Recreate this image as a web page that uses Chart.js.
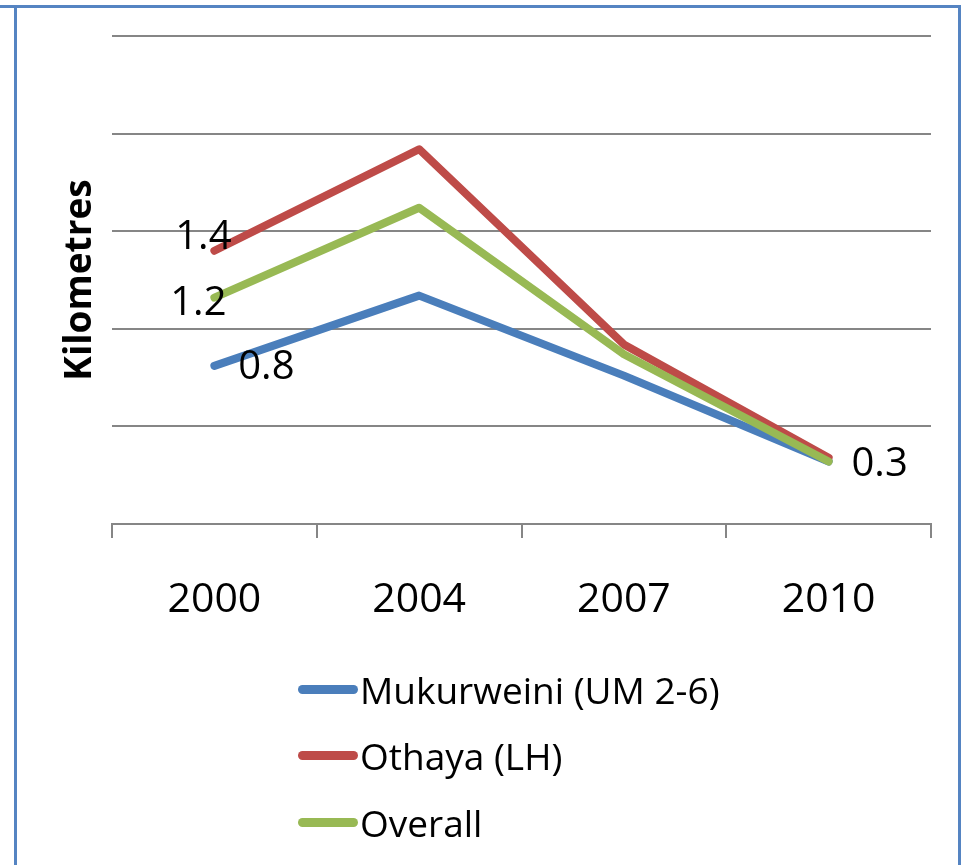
<!DOCTYPE html>
<html>
<head>
<meta charset="utf-8">
<script src="https://cdn.jsdelivr.net/npm/chart.js@4.4.1/dist/chart.umd.min.js"></script>
<style>
  html, body { margin: 0; padding: 0; background: #fff; }
  .wrap { position: relative; width: 963px; height: 865px; overflow: hidden; }
  .frame { position: absolute; background: #5584c2; }
  .frame.top { left: 0; top: 5px; width: 961px; height: 3px; }
  .frame.left { left: 14px; top: 5px; width: 3px; height: 860px; }
  .frame.right { left: 958px; top: 5px; width: 3px; height: 860px; }
  #legend { position: absolute; left: 298px; top: 656px; font-family: "Open Sans", sans-serif; font-size: 37px; color: #000; }
  #legend .item { display: flex; align-items: center; height: 66.5px; }
  #legend .swatch { width: 60px; height: 9px; border-radius: 5px; margin-right: 2px; }
</style>
</head>
<body>
<div class="wrap">
  <canvas id="myChart"></canvas>
  <div class="frame top"></div>
  <div class="frame left"></div>
  <div class="frame right"></div>
  <div id="legend"></div>
</div>
<script>
// Chart data
const years = ["2000", "2004", "2007", "2010"];
const seriesNames = ["Mukurweini (UM 2-6)", "Othaya (LH)", "Overall"];

const mukurweini = [0.81, 1.17, 0.76, 0.32];
const othaya = [1.40, 1.92, 0.92, 0.34];
const overall = [1.16, 1.62, 0.87, 0.32];

// Data labels shown on the chart ("" = no label)
const mukurweiniLabels = ["0.8", "", "", "0.3"];
const othayaLabels = ["1.4", "", "", ""];
const overallLabels = ["1.2", "", "", ""];

const colors = ["#4a7ebb", "#be4b48", "#98b954"];
const fontFamily = "'Open Sans', sans-serif";

// Where each data label sits relative to its point
const labelOffsets = [
    [[52, 2], null, null, [51, 3]],
    [[-11, -13], null, null, null],
    [[-16, 6], null, null, null]
];

// Plugin to draw the value labels next to the points
const valueLabels = {
    id: "valueLabels",
    afterDatasetsDraw(chart) {
        const ctx = chart.ctx;
        ctx.save();
        ctx.font = "40px " + fontFamily;
        ctx.fillStyle = "#000";
        ctx.textAlign = "center";
        ctx.textBaseline = "middle";
        chart.data.datasets.forEach((ds, i) => {
            let meta = chart.getDatasetMeta(i);
            ds.valueLabels.forEach((txt, j) => {
                if (!txt) return;
                let pt = meta.data[j];
                let off = labelOffsets[i][j] || [0, 0];
                ctx.fillText(txt, pt.x + off[0], pt.y + off[1]);
            });
        });
        ctx.restore();
    }
};

// Plugin to build the vertical legend as html
const htmlLegend = {
    id: "htmlLegend",
    afterUpdate(chart) {
        const box = document.getElementById("legend");
        box.innerHTML = "";
        let items = chart.options.plugins.legend.labels.generateLabels(chart);
        items.sort((a, b) => a.datasetIndex - b.datasetIndex);
        items.forEach(item => {
            let row = document.createElement("div");
            row.className = "item";
            let sw = document.createElement("span");
            sw.className = "swatch";
            sw.style.background = item.strokeStyle;
            let txt = document.createElement("span");
            txt.textContent = item.text;
            row.appendChild(sw);
            row.appendChild(txt);
            box.appendChild(row);
        });
    }
};

let makeSet = (name, values, labels, color, order) => ({
    label: name,
    data: values,
    valueLabels: labels,
    borderColor: color,
    backgroundColor: color,
    borderWidth: 8,
    borderCapStyle: "round",
    borderJoinStyle: "round",
    pointRadius: 0,
    tension: 0,
    order: order
});

const ctx = document.getElementById("myChart").getContext("2d");
document.getElementById("myChart").parentNode.style.height = "865px";

let myChart = new Chart(ctx, {
    type: "line",
    data: {
        labels: years,
        datasets: [
            makeSet(seriesNames[0], mukurweini, mukurweiniLabels, colors[0], 2),
            makeSet(seriesNames[1], othaya, othayaLabels, colors[1], 1),
            makeSet(seriesNames[2], overall, overallLabels, colors[2], 0)
        ]
    },
    options: {
        responsive: true,
        maintainAspectRatio: false,
        animation: false,
        layout: { padding: { left: 0, top: 36, right: 32, bottom: 231 } },
        plugins: {
            legend: { display: false },
            tooltip: { enabled: false }
        },
        scales: {
            x: {
                offset: true,
                afterFit: (scale) => { scale.height = 110; },
                grid: {
                    offset: true,
                    drawOnChartArea: false,
                    drawTicks: true,
                    tickLength: 14,
                    color: "#868686",
                    lineWidth: 2
                },
                border: { display: true, color: "#868686", width: 2 },
                ticks: {
                    color: "#000",
                    padding: 38,
                    maxRotation: 0,
                    font: { family: fontFamily, size: 41 }
                }
            },
            y: {
                min: 0,
                max: 2.5,
                afterFit: (scale) => { scale.width = 112; },
                ticks: { display: false, stepSize: 0.5 },
                grid: { drawTicks: false, color: "#868686", lineWidth: 2 },
                border: { display: false },
                title: {
                    display: true,
                    text: "Kilometres",
                    color: "#000",
                    padding: { top: 58, bottom: 0 },
                    font: { family: fontFamily, size: 37, weight: "bold" }
                }
            }
        }
    },
    plugins: [valueLabels, htmlLegend]
});
</script>
</body>
</html>
